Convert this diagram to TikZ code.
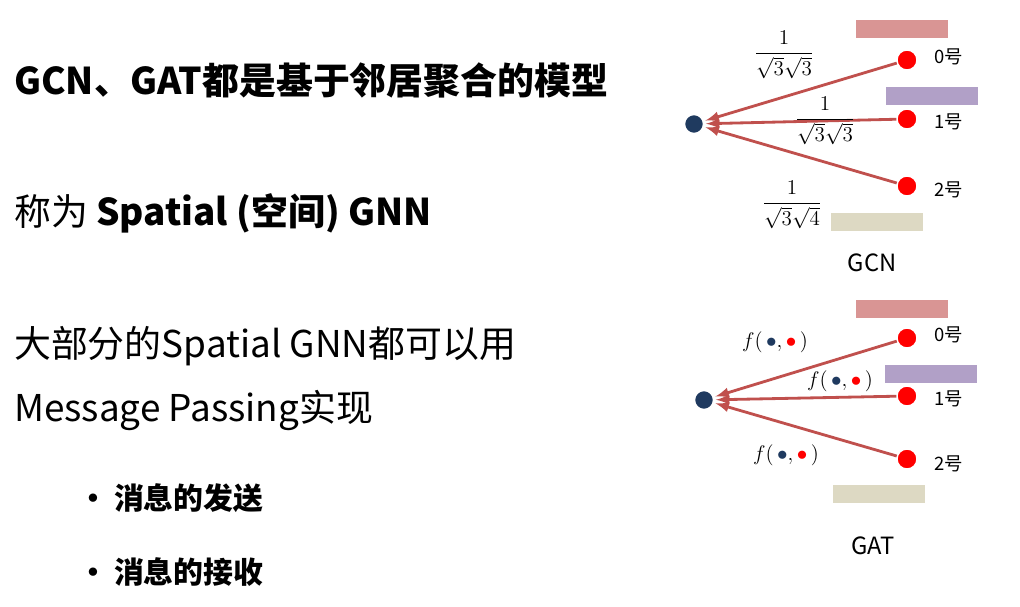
\documentclass[tikz,border=0pt]{standalone}
\usepackage{amsmath}
\usepackage{fontspec}
\setmainfont{Noto Sans CJK SC}
\usepackage{tikz}
\definecolor{navy}{HTML}{1F3A5F}
\definecolor{edgered}{HTML}{C0504D}
\definecolor{barred}{HTML}{D99594}
\definecolor{barpurple}{HTML}{B1A0C7}
\definecolor{barbeige}{HTML}{DDD9C3}
\begin{document}
\begin{tikzpicture}[
    x=0.02cm, y=-0.02cm,
    center/.style={circle, fill=navy, draw=white, thick, minimum size=0.38cm, inner sep=0pt},
    nbr/.style={circle, fill=red, draw=white, thick, minimum size=0.4cm, inner sep=0pt},
    nlabel/.style={font=\fontsize{10.5}{12}\selectfont, anchor=west},
    weight/.style={font=\fontsize{11.5}{13}\selectfont},
    edge/.style={-latex, edgered, line width=1.6pt, shorten >=1pt},
    bar/.style={minimum width=1.85cm, minimum height=0.36cm, inner sep=0pt},
    body/.style={anchor=west, font=\fontsize{21}{25}\selectfont},
    item/.style={anchor=west, font=\fontsize{17}{20}\selectfont\bfseries}
]
\useasboundingbox (0,0) rectangle (1020,607);

% Left text
\node[body] (t1) at (8,80) {\bfseries GCN、GAT都是基于邻居聚合的模型};
\node[body] (t2) at (8,213) {称为 \textbf{Spatial (空间) GNN}};
\node[body] (t3) at (8,346) {大部分的Spatial GNN都可以用};
\node[body] (t4) at (8,410) {Message Passing实现};
\node[item] (b1) at (72,498) {·\hspace{0.2em}消息的发送};
\node[item] (b2) at (72,572) {·\hspace{0.2em}消息的接收};

% GCN
\node[bar, fill=barred] (gbar0) at (902,29) {};
\node[bar, fill=barpurple] (gbar1) at (932,96) {};
\node[bar, fill=barbeige] (gbar2) at (877,222) {};
\node[center] (gc) at (694,124) {};
\node[nbr] (g0) at (907,60) {};
\node[nbr] (g1) at (907,119) {};
\node[nbr] (g2) at (907,186) {};
\node[nlabel] at (928,57) {0号};
\node[nlabel] at (928,122) {1号};
\node[nlabel] at (928,190) {2号};
\draw[edge] (g0) -- (gc);
\draw[edge] (g1) -- (gc);
\draw[edge] (g2) -- (gc);
\node[weight] (w0) at (784,55) {$\dfrac{1}{\sqrt{3}\sqrt{3}}$};
\node[weight] (w1) at (825,121) {$\dfrac{1}{\sqrt{3}\sqrt{3}}$};
\node[weight] (w2) at (792,205) {$\dfrac{1}{\sqrt{3}\sqrt{4}}$};
\node[font=\fontsize{13.5}{15}\selectfont] (gcn) at (872,263) {GCN};

% GAT
\node[bar, fill=barred] (abar0) at (902,309) {};
\node[bar, fill=barpurple] (abar1) at (931,374) {};
\node[bar, fill=barbeige] (abar2) at (879,494) {};
\node[center] (ac) at (704,400) {};
\node[nbr] (a0) at (907,338) {};
\node[nbr] (a1) at (907,396) {};
\node[nbr] (a2) at (907,459) {};
\node[nlabel] at (928,335) {0号};
\node[nlabel] at (928,399) {1号};
\node[nlabel] at (928,464) {2号};
\draw[edge] (a0) -- (ac);
\draw[edge] (a1) -- (ac);
\draw[edge] (a2) -- (ac);
\node[weight] (f0) at (775,342) {$f(\,\textcolor{navy}{\bullet},\textcolor{red}{\bullet}\,)$};
\node[weight] (f1) at (840,381) {$f(\,\textcolor{navy}{\bullet},\textcolor{red}{\bullet}\,)$};
\node[weight] (f2) at (786,455) {$f(\,\textcolor{navy}{\bullet},\textcolor{red}{\bullet}\,)$};
\node[font=\fontsize{13.5}{15}\selectfont] (gat) at (873,546) {GAT};
\end{tikzpicture}
\end{document}
